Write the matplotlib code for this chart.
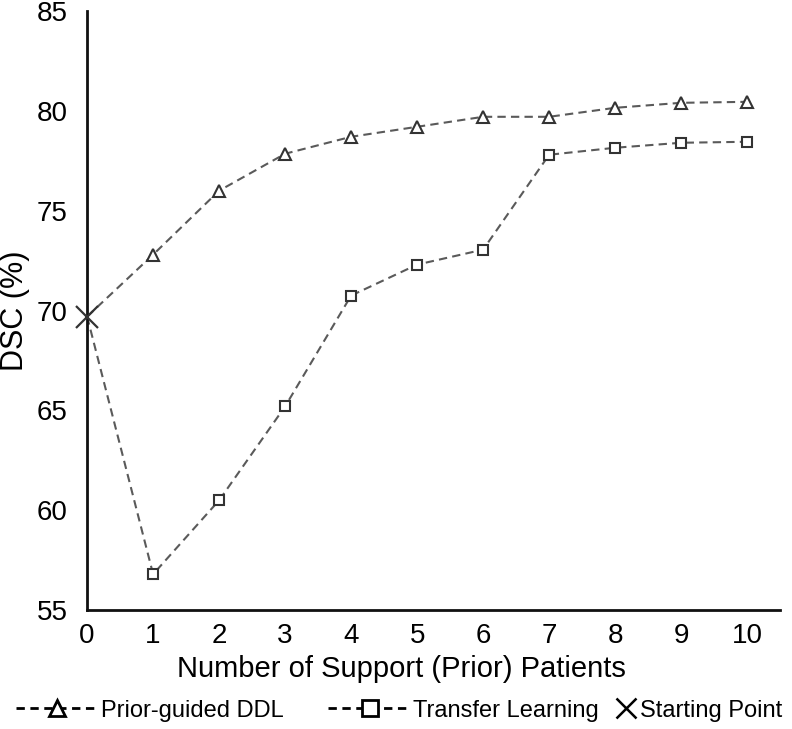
import matplotlib
matplotlib.use("Agg")
import matplotlib.pyplot as plt
from matplotlib.lines import Line2D

plt.rcParams['font.family'] = ['Liberation Sans', 'DejaVu Sans']

# support patients
n_support = [0, 1, 2, 3, 4, 5, 6, 7, 8, 9, 10]
ddl_dsc = [69.7, 72.8, 76.0, 77.85, 78.7, 79.2, 79.7, 79.7, 80.15, 80.4, 80.45]
tl_dsc = [69.7, 56.8, 60.5, 65.2, 70.75, 72.3, 73.05, 77.8, 78.15, 78.4, 78.45]
start_x = [0]
start_y = [69.7]

fig = plt.figure(figsize=(7.92, 7.29), dpi=100)
ax = fig.add_axes([0.110, 0.163, 0.875, 0.822])

line_col = '#5a5a5a'
mk_col = '#333333'

ax.plot(n_support[1:], ddl_dsc[1:], ls='none', marker='^', ms=8, mfc='white',
        mec=mk_col, mew=1.5, zorder=3)
ax.plot(n_support, ddl_dsc, ls=(0, (4, 2.5)), color=line_col, lw=1.5, zorder=2)
ax.plot(n_support[1:], tl_dsc[1:], ls='none', marker='s', ms=7, mfc='white',
        mec=mk_col, mew=1.5, zorder=3)
ax.plot(n_support, tl_dsc, ls=(0, (4, 2.5)), color=line_col, lw=1.5, zorder=2)
ax.plot(start_x, start_y, ls='none', marker='x', ms=16, mew=1.6, color='#333333',
        zorder=4, clip_on=False)

ax.set_xlim(0, 10.5)
ax.set_ylim(55, 85)
ax.set_xticks(n_support)
ax.set_yticks([55, 60, 65, 70, 75, 80, 85])
ax.tick_params(axis='both', length=0, labelsize=20)
ax.tick_params(axis='y', pad=14)
ax.tick_params(axis='x', pad=9)
for s in ['top', 'right']:
    ax.spines[s].set_visible(False)
for s in ['left', 'bottom']:
    ax.spines[s].set_linewidth(2)
    ax.spines[s].set_color('#111111')

ax.set_xlabel('Number of Support (Prior) Patients', fontsize=21)
ax.xaxis.set_label_coords(0.453, -0.075)
ax.set_ylabel('DSC (%)', fontsize=22)
ax.yaxis.set_label_coords(-0.082, 0.5)

h_ddl = Line2D([], [], color='black', ls=(0, (3, 2)), lw=2, marker='^', ms=11,
               mfc='white', mec='black', mew=2)
h_tl = Line2D([], [], color='black', ls=(0, (3, 2)), lw=2, marker='s', ms=11,
              mfc='white', mec='black', mew=2)
h_start = Line2D([], [], color='black', ls='none', marker='x', ms=14, mew=1.8)

fig.legend([h_ddl, h_tl], ['Prior-guided DDL', 'Transfer Learning'],
           loc='lower left', bbox_to_anchor=(0.008, -0.003), ncol=2,
           frameon=False, fontsize=17, handlelength=3.5,
           handletextpad=0.1, columnspacing=1.9, borderaxespad=0)
fig.legend([h_start], ['Starting Point'], loc='lower right',
           bbox_to_anchor=(1.0, -0.003), frameon=False, fontsize=17,
           handlelength=0.9, handletextpad=0.15, borderaxespad=0)

fig.savefig('out.png', dpi=100)
